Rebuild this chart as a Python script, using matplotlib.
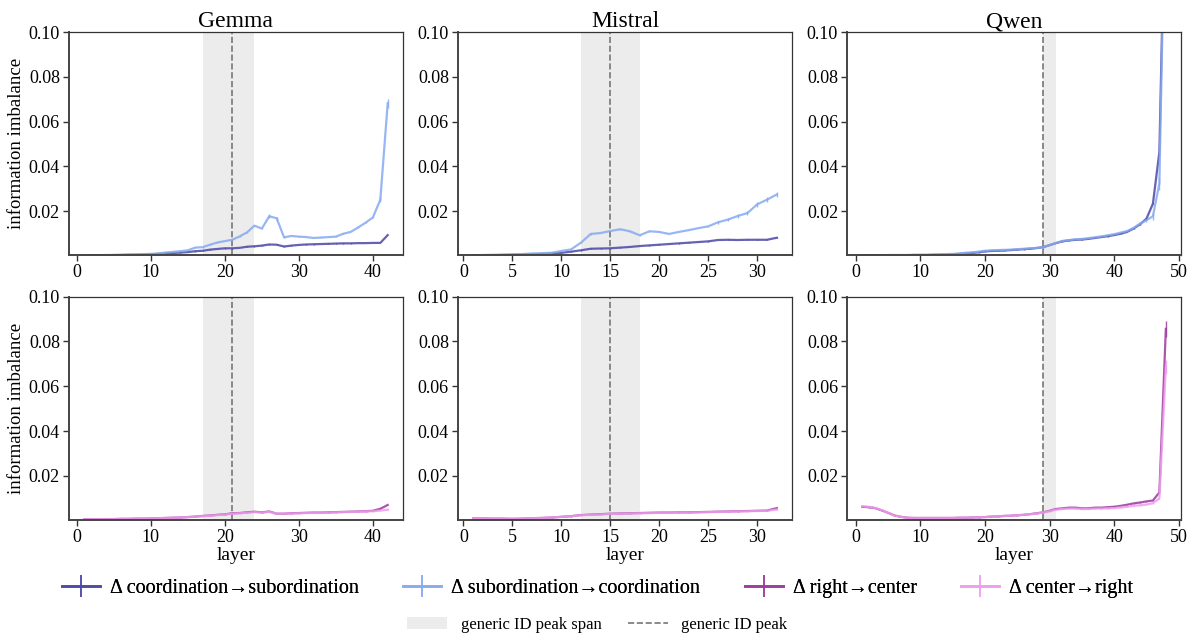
import numpy as np
import matplotlib
matplotlib.use("Agg")
import matplotlib.pyplot as plt
from matplotlib.patches import Patch
from matplotlib.lines import Line2D

plt.rcParams['font.family'] = ['Liberation Serif', 'DejaVu Serif']
plt.rcParams['mathtext.fontset'] = 'stix'

# ---- data ----
models = ['Gemma', 'Mistral', 'Qwen']
peak_layer = {'Gemma': 21, 'Mistral': 15, 'Qwen': 29}
peak_span = {'Gemma': (17, 24), 'Mistral': (12, 18), 'Qwen': (29, 31)}

gemma_layers = list(range(1, 43))
mistral_layers = list(range(1, 33))
qwen_layers = list(range(1, 49))

# coordination -> subordination
gemma_c2s = [0.0004, 0.0004, 0.0004, 0.0004, 0.0005, 0.0005, 0.0006, 0.0006, 0.0007, 0.0008,
             0.0010, 0.0012, 0.0014, 0.0016, 0.0018, 0.0022, 0.0024, 0.0029, 0.0032, 0.0035,
             0.0035, 0.0037, 0.0042, 0.0044, 0.0047, 0.0052, 0.0051, 0.0043, 0.0047, 0.0050,
             0.0052, 0.0053, 0.0054, 0.0055, 0.0056, 0.0057, 0.0057, 0.0058, 0.0058, 0.0059,
             0.0059, 0.0094]
# subordination -> coordination
gemma_s2c = [0.0004, 0.0004, 0.0004, 0.0005, 0.0005, 0.0006, 0.0007, 0.0008, 0.0009, 0.0010,
             0.0012, 0.0016, 0.0019, 0.0022, 0.0026, 0.0038, 0.0040, 0.0051, 0.0061, 0.0067,
             0.0073, 0.0088, 0.0106, 0.0136, 0.0123, 0.0178, 0.0169, 0.0084, 0.0090, 0.0087,
             0.0085, 0.0081, 0.0083, 0.0085, 0.0087, 0.0100, 0.0108, 0.0128, 0.0149, 0.0173,
             0.0252, 0.0683]
mistral_c2s = [0.0003, 0.0004, 0.0004, 0.0005, 0.0006, 0.0007, 0.0008, 0.0010, 0.0012, 0.0015,
               0.0020, 0.0026, 0.0033, 0.0034, 0.0035, 0.0038, 0.0041, 0.0045, 0.0048, 0.0051,
               0.0054, 0.0057, 0.0060, 0.0063, 0.0066, 0.0072, 0.0073, 0.0072, 0.0073, 0.0073,
               0.0073, 0.0082]
mistral_s2c = [0.0004, 0.0005, 0.0006, 0.0007, 0.0008, 0.0009, 0.0012, 0.0013, 0.0015, 0.0023,
               0.0030, 0.0060, 0.0099, 0.0103, 0.0112, 0.0120, 0.0111, 0.0093, 0.0111, 0.0108,
               0.0099, 0.0108, 0.0116, 0.0125, 0.0133, 0.0151, 0.0163, 0.0179, 0.0192, 0.0231,
               0.0252, 0.0275]
qwen_c2s = [0.0003, 0.0003, 0.0003, 0.0003, 0.0004, 0.0004, 0.0004, 0.0004, 0.0005, 0.0005,
            0.0005, 0.0006, 0.0006, 0.0007, 0.0008, 0.0010, 0.0012, 0.0014, 0.0017, 0.0021,
            0.0023, 0.0024, 0.0025, 0.0027, 0.0029, 0.0031, 0.0033, 0.0036, 0.0040, 0.0049,
            0.0058, 0.0066, 0.0070, 0.0073, 0.0074, 0.0077, 0.0081, 0.0085, 0.0089, 0.0094,
            0.0100, 0.0108, 0.0123, 0.0142, 0.0167, 0.0234, 0.0465, 0.1800]
qwen_s2c = [0.0004, 0.0004, 0.0004, 0.0004, 0.0005, 0.0005, 0.0005, 0.0005, 0.0006, 0.0006,
            0.0006, 0.0007, 0.0008, 0.0009, 0.0010, 0.0012, 0.0015, 0.0017, 0.0020, 0.0024,
            0.0026, 0.0027, 0.0028, 0.0029, 0.0031, 0.0033, 0.0035, 0.0037, 0.0040, 0.0049,
            0.0059, 0.0068, 0.0072, 0.0075, 0.0077, 0.0080, 0.0084, 0.0088, 0.0093, 0.0098,
            0.0105, 0.0112, 0.0126, 0.0145, 0.0160, 0.0178, 0.0325, 0.1800]

# right -> center / center -> right
gemma_r2c = [0.0006, 0.0006, 0.0006, 0.0007, 0.0007, 0.0008, 0.0008, 0.0009, 0.0009, 0.0010,
             0.0011, 0.0012, 0.0013, 0.0014, 0.0016, 0.0018, 0.0021, 0.0023, 0.0026, 0.0028,
             0.0033, 0.0034, 0.0037, 0.0040, 0.0037, 0.0041, 0.0031, 0.0031, 0.0033, 0.0034,
             0.0035, 0.0036, 0.0036, 0.0037, 0.0038, 0.0039, 0.0040, 0.0041, 0.0042, 0.0044,
             0.0053, 0.0070]
gemma_c2r = [0.0006, 0.0006, 0.0006, 0.0007, 0.0007, 0.0008, 0.0008, 0.0009, 0.0009, 0.0010,
             0.0011, 0.0012, 0.0013, 0.0014, 0.0016, 0.0018, 0.0020, 0.0022, 0.0025, 0.0027,
             0.0031, 0.0033, 0.0035, 0.0038, 0.0036, 0.0039, 0.0031, 0.0031, 0.0032, 0.0033,
             0.0034, 0.0035, 0.0035, 0.0036, 0.0037, 0.0038, 0.0039, 0.0040, 0.0041, 0.0042,
             0.0045, 0.0049]
mistral_r2c = [0.0010, 0.0010, 0.0009, 0.0009, 0.0008, 0.0009, 0.0011, 0.0012, 0.0014, 0.0017,
               0.0020, 0.0025, 0.0027, 0.0029, 0.0031, 0.0032, 0.0033, 0.0034, 0.0035, 0.0036,
               0.0036, 0.0037, 0.0037, 0.0038, 0.0039, 0.0040, 0.0041, 0.0042, 0.0043, 0.0044,
               0.0045, 0.0056]
mistral_c2r = [0.0010, 0.0010, 0.0009, 0.0009, 0.0008, 0.0009, 0.0011, 0.0012, 0.0014, 0.0017,
               0.0020, 0.0024, 0.0026, 0.0028, 0.0030, 0.0031, 0.0032, 0.0033, 0.0034, 0.0035,
               0.0035, 0.0036, 0.0036, 0.0037, 0.0038, 0.0039, 0.0040, 0.0041, 0.0042, 0.0043,
               0.0044, 0.0050]
qwen_r2c = [0.0062, 0.0060, 0.0056, 0.0046, 0.0035, 0.0023, 0.0017, 0.0013, 0.0012, 0.0012,
            0.0012, 0.0012, 0.0012, 0.0012, 0.0012, 0.0013, 0.0013, 0.0014, 0.0015, 0.0016,
            0.0018, 0.0019, 0.0021, 0.0022, 0.0024, 0.0026, 0.0029, 0.0033, 0.0037, 0.0044,
            0.0052, 0.0055, 0.0058, 0.0058, 0.0055, 0.0055, 0.0058, 0.0058, 0.0060, 0.0062,
            0.0066, 0.0071, 0.0077, 0.0081, 0.0086, 0.0090, 0.0126, 0.0856]
qwen_c2r = [0.0064, 0.0062, 0.0057, 0.0047, 0.0035, 0.0023, 0.0017, 0.0013, 0.0012, 0.0012,
            0.0012, 0.0012, 0.0012, 0.0012, 0.0012, 0.0013, 0.0013, 0.0014, 0.0015, 0.0016,
            0.0018, 0.0019, 0.0021, 0.0022, 0.0024, 0.0026, 0.0029, 0.0032, 0.0036, 0.0042,
            0.0049, 0.0052, 0.0054, 0.0054, 0.0052, 0.0052, 0.0054, 0.0054, 0.0055, 0.0056,
            0.0059, 0.0062, 0.0066, 0.0069, 0.0072, 0.0078, 0.0099, 0.0685]

# visible error bars {layer: err}
gemma_s2c_err = {26: 0.0008, 27: 0.0006, 41: 0.0010, 42: 0.0020}
mistral_s2c_err = {13: 0.0004, 26: 0.0006, 27: 0.0007, 28: 0.0008, 29: 0.0008,
                   30: 0.0010, 31: 0.0010, 32: 0.0012}
qwen_s2c_err = {44: 0.0006, 45: 0.0008, 46: 0.0015, 47: 0.0030}
qwen_r2c_err = {48: 0.0035}
qwen_c2r_err = {48: 0.0030}

layers = {'Gemma': gemma_layers, 'Mistral': mistral_layers, 'Qwen': qwen_layers}
syntax = {'Gemma': (gemma_c2s, gemma_s2c), 'Mistral': (mistral_c2s, mistral_s2c),
          'Qwen': (qwen_c2s, qwen_s2c)}
position = {'Gemma': (gemma_r2c, gemma_c2r), 'Mistral': (mistral_r2c, mistral_c2r),
            'Qwen': (qwen_r2c, qwen_c2r)}
errs = {('Gemma', 's2c'): gemma_s2c_err, ('Mistral', 's2c'): mistral_s2c_err,
        ('Qwen', 's2c'): qwen_s2c_err, ('Qwen', 'r2c'): qwen_r2c_err,
        ('Qwen', 'c2r'): qwen_c2r_err}

labels = ['Δ coordination→subordination', 'Δ subordination→coordination',
          'Δ right→center', 'Δ center→right']
colors = ['#4b47a8', '#86aaf0', '#9a3a9c', '#f09cee']


def err_list(model, key, xs):
    d = errs.get((model, key), {})
    return [d.get(x, 0.00015) for x in xs]


fig, axes = plt.subplots(2, 3, figsize=(11.95, 6.41), dpi=100)
fig.subplots_adjust(left=0.0577, right=0.9883, top=0.950, bottom=0.1888,
                    wspace=0.165, hspace=0.184)

for j, m in enumerate(models):
    xs = layers[m]
    rows = [(syntax[m], ('c2s', 's2c'), (0, 1)), (position[m], ('r2c', 'c2r'), (2, 3))]
    for i, (series, keys, cidx) in enumerate(rows):
        ax = axes[i, j]
        lo, hi = peak_span[m]
        ax.axvspan(lo, hi, color='#ececec', zorder=0, lw=0)
        ax.axvline(peak_layer[m], color='#777777', ls='--', lw=1.2, zorder=1)
        for ys, k, c in zip(series, keys, cidx):
            ax.errorbar(xs, ys, yerr=err_list(m, k, xs), color=colors[c], lw=1.6,
                        alpha=0.85, elinewidth=1.0, zorder=2)
        ax.set_ylim(0.0003, 0.1)
        ax.set_yticks([0.02, 0.04, 0.06, 0.08, 0.10])
        ax.set_yticklabels(['0.02', '0.04', '0.06', '0.08', '0.10'])
        if m == 'Mistral':
            ax.set_xticks([0, 5, 10, 15, 20, 25, 30])
        else:
            ax.set_xticks([0, 10, 20, 30, 40] + ([50] if m == 'Qwen' else []))
        ax.tick_params(labelsize=13, length=4, width=1.0, color='#333333', pad=2.5)
        for side in ['left', 'bottom']:
            ax.spines[side].set_linewidth(1.4)
            ax.spines[side].set_color('#444444')
        for side in ['top', 'right']:
            ax.spines[side].set_linewidth(0.9)
            ax.spines[side].set_color('#333333')
        if i == 0:
            ax.set_title(m, fontsize=17, pad=3)
        else:
            ax.set_xlabel('layer', fontsize=14, labelpad=1)
        if j == 0:
            ax.set_ylabel('information imbalance', fontsize=13.5, labelpad=3)

handles = []
for c, lab in zip(colors, labels):
    h = Line2D([0], [0], color=c, lw=2, alpha=0.85, marker='|', markersize=16,
               markeredgewidth=1.2)
    handles.append(h)
leg1 = fig.legend(handles, labels, loc='center', ncol=4, frameon=False,
                  bbox_to_anchor=(0.5, 1 - 588 / 641), fontsize=14.5,
                  columnspacing=2.2, handlelength=1.9, handletextpad=0.5)
fig.add_artist(leg1)

h2 = [Patch(facecolor='#ececec', edgecolor='none'),
      Line2D([0], [0], color='#777777', ls='--', lw=1.2)]
fig.legend(h2, ['generic ID peak span', 'generic ID peak'], loc='center', ncol=2,
           frameon=False, bbox_to_anchor=(0.5, 1 - 625 / 641), fontsize=12,
           columnspacing=1.6, handlelength=2.4, handletextpad=0.8)

fig.savefig('out.png', dpi=100)
